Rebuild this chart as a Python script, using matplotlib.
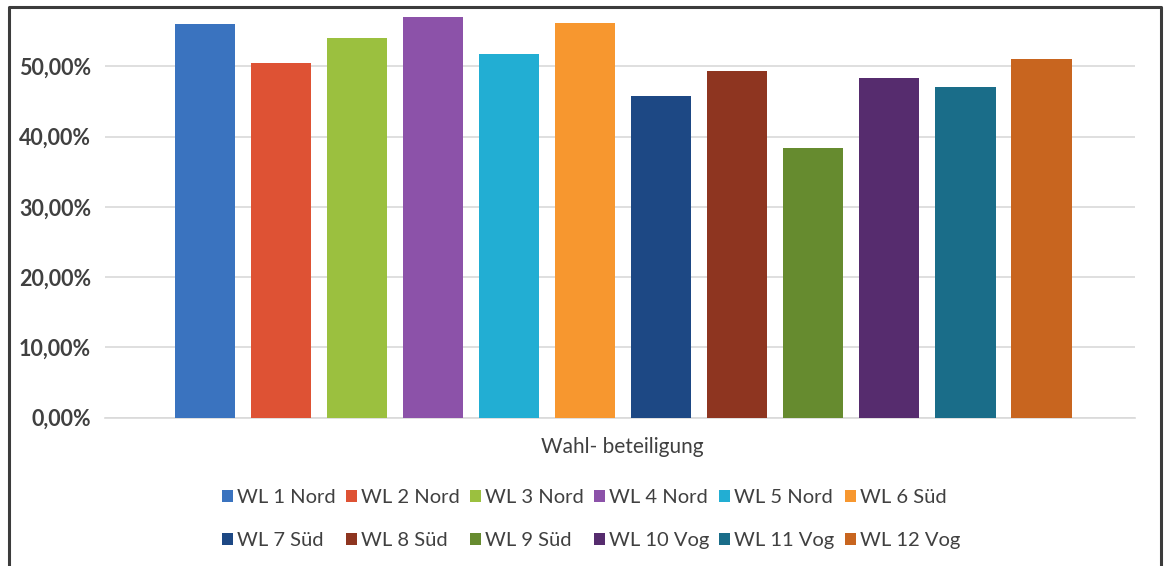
import matplotlib
matplotlib.use("Agg")
import matplotlib.pyplot as plt
from matplotlib.lines import Line2D
from matplotlib.patches import Patch

# Voter turnout per electoral district
districts = ["WL 1 Nord", "WL 2 Nord", "WL 3 Nord", "WL 4 Nord", "WL 5 Nord", "WL 6 Süd",
             "WL 7 Süd", "WL 8 Süd", "WL 9 Süd", "WL 10 Vog", "WL 11 Vog", "WL 12 Vog"]
turnout = [0.560, 0.504, 0.540, 0.570, 0.517, 0.561,
           0.457, 0.493, 0.384, 0.483, 0.471, 0.511]
colors = ["#3A73BF", "#DE5234", "#9BC03F", "#8C52A9", "#22AED3", "#F7972F",
          "#1D4884", "#8E3520", "#668B2F", "#562C6E", "#1A6D89", "#C8651F"]
category = "Wahl- beteiligung"
yticks = [0.0, 0.1, 0.2, 0.3, 0.4, 0.5]
ytick_labels = ["0,00%", "10,00%", "20,00%", "30,00%", "40,00%", "50,00%"]

plt.rcParams["font.family"] = ["Lato", "DejaVu Sans"]
text_color = "#404040"

W, H = 1167, 566
fig = plt.figure(figsize=(W / 100, H / 100), dpi=100)
fig.patch.set_facecolor("white")

ax = fig.add_axes([105 / W, 1 - 417.7 / H, (1135 - 105) / W, (417.7 - 10) / H])
positions = list(range(len(turnout)))
ax.bar(positions, turnout, width=0.79, color=colors, zorder=3)

ax.set_xlim(-1.32, 12.23)
ax.set_ylim(0, 0.58)
ax.set_yticks(yticks)
ax.set_yticklabels(ytick_labels, fontsize=15.5, fontweight="bold", color=text_color)
ax.tick_params(axis="y", length=0, pad=10)
ax.set_xticks([])
ax.grid(axis="y", color="#D9D9D9", linewidth=1.2, zorder=0)
for side in ["top", "right", "left"]:
    ax.spines[side].set_visible(False)
ax.spines["bottom"].set_color("#D9D9D9")
ax.spines["bottom"].set_linewidth(1.2)

fig.text(622 / W, 1 - 447 / H, category, ha="center", va="center",
         fontsize=15, color=text_color)

# Legend: two rows of six, filled row by row
handles = [Patch(facecolor=c, edgecolor="none") for c in colors]
order = []
for col in range(6):
    order += [col, col + 6]
leg = fig.legend([handles[i] for i in order], [districts[i] for i in order],
                 ncol=6, loc="center", bbox_to_anchor=(591 / W, 1 - 519 / H),
                 frameon=False, fontsize=14.5, handlelength=0.55, handleheight=0.55,
                 handletextpad=0.2, columnspacing=0.5, labelspacing=1.3,
                 labelcolor=text_color)

# Outer chart frame
frame_kw = dict(color="#3C3C3C", linewidth=2.2, transform=fig.transFigure)
fig.add_artist(Line2D([9 / W, 9 / W, 1161 / W, 1161 / W],
                      [-0.01, 1 - 7 / H, 1 - 7 / H, -0.01], **frame_kw))

fig.savefig("out.png", dpi=100, facecolor="white")
